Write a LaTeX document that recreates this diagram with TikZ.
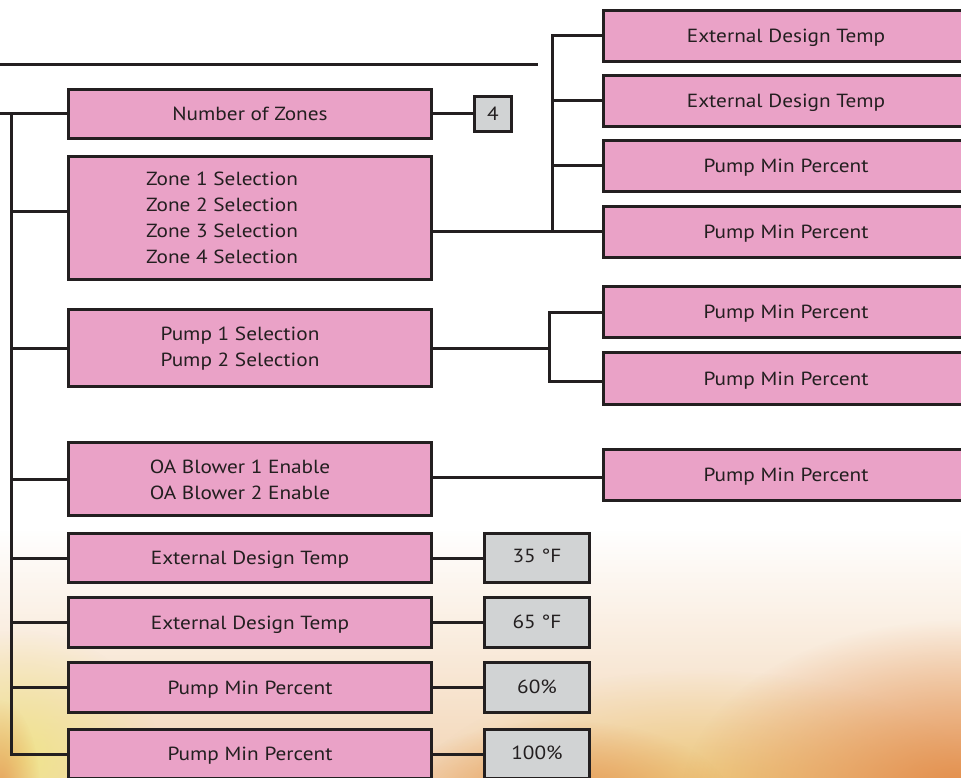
\documentclass[tikz,border=0pt]{standalone}
\usepackage{fontspec}
\setmainfont{PT Sans}[FakeStretch=1.12]
\usetikzlibrary{fadings}
\definecolor{boxpink}{RGB}{234,162,199}
\definecolor{valgray}{RGB}{209,211,212}
\definecolor{inkline}{RGB}{35,31,32}
\definecolor{bgorange}{RGB}{226,137,68}
\definecolor{bgyellow}{RGB}{236,198,108}
\definecolor{bglemon}{RGB}{240,228,140}
\definecolor{bgpeach}{RGB}{238,196,150}
\tikzfading[name=blobfade, inner color=transparent!0, outer color=transparent!100]
\tikzset{
  pinkbox/.style={draw=inkline, line width=3pt, fill=boxpink, minimum width=363pt, inner sep=0pt},
  valbox/.style={draw=inkline, line width=3pt, fill=valgray, inner sep=0pt},
  lbl/.style={text=inkline, font=\fontsize{19}{26}\selectfont, text depth=0pt},
  conn/.style={draw=inkline, line width=3pt},
}
\begin{document}
\begin{tikzpicture}[x=1pt,y=-1pt]
\useasboundingbox (0,0) rectangle (961,778);
\begin{scope}
\clip (0,0) rectangle (961,778);
% background
\fill[white] (0,0) rectangle (961,778);
\fill[bgpeach, opacity=0.7, path fading=north] (0,530) rectangle (961,778);
\fill[bgyellow, path fading=blobfade] (700,820) ellipse [x radius=300, y radius=150];
\fill[bgorange, path fading=blobfade] (961,800) ellipse [x radius=280, y radius=180];
\fill[bgorange, opacity=0.8, path fading=blobfade] (560,800) ellipse [x radius=170, y radius=80];
\fill[bglemon, path fading=blobfade] (20,760) ellipse [x radius=140, y radius=130];
\fill[bgorange, opacity=0.7, path fading=blobfade] (0,790) ellipse [x radius=40, y radius=90];

% left column
\node[pinkbox, minimum height=49pt] (nz) at (250,114) {};
\node[lbl] (nzL) at (nz) {Number of Zones};
\node[pinkbox, minimum height=123pt] (zs) at (250,218) {};
\node[lbl, align=left] (zsL) at (222,218) {Zone 1 Selection\\Zone 2 Selection\\Zone 3 Selection\\Zone 4 Selection};
\node[pinkbox, minimum height=77pt] (ps) at (250,348) {};
\node[lbl, align=center] (psL) at (240,347) {Pump 1 Selection\\Pump 2 Selection};
\node[pinkbox, minimum height=73pt] (oa) at (250,479) {};
\node[lbl, align=center] (oaL) at (240,480) {OA Blower 1 Enable\\OA Blower 2 Enable};
\node[pinkbox, minimum height=49pt] (e1) at (250,558) {};
\node[lbl] (e1L) at (e1) {External Design Temp};
\node[pinkbox, minimum height=50pt] (e2) at (250,622.5) {};
\node[lbl] (e2L) at (e2) {External Design Temp};
\node[pinkbox, minimum height=50pt] (p1) at (250,687.5) {};
\node[lbl] (p1L) at (p1) {Pump Min Percent};
\node[pinkbox, minimum height=49pt] (p2) at (250,754) {};
\node[lbl] (p2L) at (p2) {Pump Min Percent};

% value boxes
\node[valbox, minimum width=37pt, minimum height=35pt] (v4) at (493,114) {};
\node[lbl] (v4L) at (v4) {4};
\node[valbox, minimum width=105pt, minimum height=49pt] (v35) at (537,558) {};
\node[lbl] (v35L) at ([yshift=2.5pt]v35.center) {35 °F};
\node[valbox, minimum width=105pt, minimum height=50pt] (v65) at (537,622.5) {};
\node[lbl] (v65L) at ([yshift=1pt]v65.center) {65 °F};
\node[valbox, minimum width=105pt, minimum height=50pt] (v60) at (537,687.5) {};
\node[lbl] (v60L) at ([yshift=1pt]v60.center) {60\%};
\node[valbox, minimum width=105pt, minimum height=49pt] (v100) at (537,754) {};
\node[lbl] (v100L) at ([yshift=1.5pt]v100.center) {100\%};

% right column
\node[pinkbox, minimum width=365pt, minimum height=51pt] (r1) at (786,36) {};
\node[lbl] (r1L) at (r1) {External Design Temp};
\node[pinkbox, minimum width=365pt, minimum height=51pt] (r2) at (786,101) {};
\node[lbl] (r2L) at (r2) {External Design Temp};
\node[pinkbox, minimum width=365pt, minimum height=51pt] (r3) at (786,166) {};
\node[lbl] (r3L) at (r3) {Pump Min Percent};
\node[pinkbox, minimum width=365pt, minimum height=51pt] (r4) at (786,232) {};
\node[lbl] (r4L) at (r4) {Pump Min Percent};
\node[pinkbox, minimum width=365pt, minimum height=51pt] (r5) at (786,312) {};
\node[lbl] (r5L) at (r5) {Pump Min Percent};
\node[pinkbox, minimum width=365pt, minimum height=52pt] (r6) at (786,378.5) {};
\node[lbl] (r6L) at (r6) {Pump Min Percent};
\node[pinkbox, minimum width=365pt, minimum height=51pt] (r7) at (786,475) {};
\node[lbl] (r7L) at (r7) {Pump Min Percent};

% top rule
\coordinate (topL) at (0,65);
\coordinate (topR) at (538,65);
\draw[conn] (topL) -- (topR);

% trunk
\coordinate (tin) at (0,114);
\coordinate (tTop) at (11,114);
\coordinate (tBot) at (11,754);
\draw[conn] (tin) -- (nz.west);
\draw[conn] (tTop) -- (tBot) -- (p2.west);
\draw[conn] (tTop |- 0,212) -- ([yshift=6pt]zs.west);
\draw[conn] (tTop |- ps.west) -- (ps.west);
\draw[conn] (tTop |- oa.west) -- (oa.west);
\draw[conn] (tTop |- e1.west) -- (e1.west);
\draw[conn] (tTop |- e2.west) -- (e2.west);
\draw[conn] (tTop |- p1.west) -- (p1.west);

% value connectors
\draw[conn] (nz.east) -- (v4.west);
\draw[conn] (e1.east) -- (v35.west);
\draw[conn] (e2.east) -- (v65.west);
\draw[conn] (p1.east) -- (v60.west);
\draw[conn] (p2.east) -- (v100.west);

% branch from zones
\coordinate (bA) at (552,36);
\draw[conn] (zs.east |- r4.west) -- (r4.west);
\draw[conn] (r1.west) -- (bA) -- (bA |- r4.west);
\draw[conn] (bA |- r2.west) -- (r2.west);
\draw[conn] (bA |- r3.west) -- (r3.west);

% branch from pumps
\coordinate (bB) at (549,348);
\draw[conn] (ps.east) -- (bB);
\draw[conn] (r5.west) -| (bB) |- ([yshift=-3pt]r6.west);

% OA to pump
\draw[conn] (oa.east |- 0,477) -- (r7.west |- 0,477);
\end{scope}
\end{tikzpicture}
\end{document}
